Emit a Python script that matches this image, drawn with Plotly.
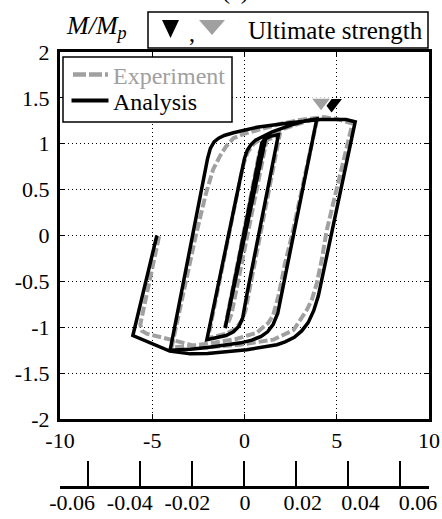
import plotly.graph_objects as go

# ---------------------------------------------------------------
# Cyclic moment - displacement response (normalised moment M/Mp)
# ---------------------------------------------------------------

# Analysis (solid black) hysteresis path
ana_x = [0.0, 1.05, 1.15,
         -1.05,
         0.94, 1.1, 1.4, 1.84,
         0.15, 0.03, -0.1, -0.3, -0.6, -1.0, -1.5, -2.04,
         -0.15, 0.0, 0.15, 0.35, 0.6, 0.9, 1.5, 2.48, 3.3, 3.92,
         2.2, 2.0, 1.8, 1.55, 1.25, 0.9, 0.4, -0.2, -1.14, -2.0, -2.94, -4.03,
         -2.0, -1.85, -1.65, -1.4, -1.1, -0.6, 0.67, 2.48, 4.1, 5.0, 5.5, 6.0,
         4.45, 4.25, 4.0, 3.75, 3.45, 3.1, 2.7, 2.2, 1.76, 0.13, -1.14, -2.0, -2.94, -3.6, -4.05,
         -6.05, -4.75]
ana_y = [0.0, 1.02, 1.06,
         -1.01,
         1.01, 1.05, 1.08, 1.10,
         -0.62, -0.78, -0.9, -0.99, -1.05, -1.09, -1.115, -1.135,
         0.70, 0.84, 0.93, 0.99, 1.04, 1.07, 1.13, 1.20, 1.25, 1.27,
         -0.45, -0.68, -0.85, -0.97, -1.05, -1.10, -1.14, -1.17, -1.2, -1.22, -1.24, -1.25,
         0.84, 0.95, 1.02, 1.06, 1.09, 1.12, 1.18, 1.23, 1.265, 1.27, 1.265, 1.24,
         -0.25, -0.45, -0.66, -0.82, -0.95, -1.04, -1.11, -1.16, -1.19, -1.245, -1.27, -1.285, -1.29, -1.275, -1.26,
         -1.09, 0.0]

# Experiment (grey dashed) hysteresis path
exp_x = [0.0, 0.9, 1.1, 1.2,
         -0.7, -0.9, -1.05,
         0.8, 1.0, 1.3, 1.9,
         0.4, 0.2, 0.05, -0.15, -0.5, -1.0, -1.5, -1.98,
         -0.25, -0.05, 0.15, 0.5, 1.0, 1.8, 2.8, 3.6, 3.95,
         2.57, 2.2, 1.84, 1.55, 1.3, 0.67, -0.5, -2.0, -3.3, -3.95,
         -2.64, -2.1, -1.7, -1.32, -1.0, -0.6, 0.0, 1.0, 2.0, 3.0, 3.8, 4.3, 5.0, 5.5, 5.85,
         4.45, 4.2, 3.92, 3.65, 3.38, 2.66, 1.57, -0.23, -2.04, -2.76, -3.3, -4.03, -4.57, -5.3, -5.55, -5.65,
         -4.62]
exp_y = [0.0, 0.93, 1.02, 1.04,
         -0.85, -0.96, -1.0,
         0.9, 0.99, 1.05, 1.09,
         -0.45, -0.65, -0.82, -0.93, -1.02, -1.07, -1.1, -1.12,
         0.6, 0.78, 0.9, 1.0, 1.07, 1.14, 1.21, 1.26, 1.28,
         0.0, -0.3, -0.66, -0.87, -0.95, -1.06, -1.13, -1.18, -1.21, -1.22,
         0.0, 0.45, 0.72, 0.87, 0.97, 1.06, 1.11, 1.17, 1.22, 1.26, 1.285, 1.29, 1.27, 1.245, 1.22,
         0.05, -0.25, -0.52, -0.7, -0.81, -1.03, -1.135, -1.19, -1.22, -1.2, -1.17, -1.135, -1.10, -1.07, -1.04, -0.97,
         0.0]

# Ultimate-strength markers
ult_ana_x = [4.72]
ult_ana_y = [1.44]
ult_exp_x = [4.15]
ult_exp_y = [1.45]

# Axis ticks
x_ticks = [-10, -5, 0, 5, 10]
x_tick_text = ["-10", "-5", "0", "5", "10"]
y_ticks = [-2, -1.5, -1, -0.5, 0, 0.5, 1, 1.5, 2]
y_tick_text = ["-2", "-1.5", "-1", "-0.5", "0", "0.5", "1", "1.5", "2"]
rot_ticks = [-0.06, -0.04, -0.02, 0, 0.02, 0.04, 0.06]
rot_tick_text = ["-0.06", "-0.04", "-0.02", "0", "0.02", "0.04", "0.06"]

FONT = "Liberation Serif"
GREY = "#a0a0a0"
W, H = 442, 519
L, R, T, B = 60, 13, 52, 32
PW, PH = W - L - R, H - T - B


def fx(p):
    """pixel column -> paper x"""
    return (p - L) / PW


def fy(p):
    """pixel row -> paper y"""
    return (H - B - p) / PH


fig = go.Figure()

fig.add_trace(go.Scatter(x=exp_x, y=exp_y, mode="lines", name="Experiment",
                         line=dict(color=GREY, width=4, dash="9px,3px"),
                         hoverinfo="skip"))
fig.add_trace(go.Scatter(x=ana_x, y=ana_y, mode="lines", name="Analysis",
                         line=dict(color="black", width=3.5),
                         hoverinfo="skip"))
fig.add_trace(go.Scatter(x=ult_ana_x, y=ult_ana_y, mode="markers",
                         marker=dict(symbol="triangle-down", size=18, color="black"),
                         hoverinfo="skip"))
fig.add_trace(go.Scatter(x=ult_exp_x, y=ult_exp_y, mode="markers",
                         marker=dict(symbol="triangle-down", size=18, color=GREY,
                                     line=dict(color="white", width=1.5)),
                         hoverinfo="skip"))
# rotation scale: one axis carries the line and ticks, one the labels
fig.add_trace(go.Scatter(x=[], y=[], xaxis="x2", hoverinfo="skip"))
fig.add_trace(go.Scatter(x=[], y=[], xaxis="x3", hoverinfo="skip"))

axis_common = dict(
    showgrid=True, gridcolor="black", gridwidth=1, griddash="1px,3px",
    showline=True, linecolor="black", linewidth=3, mirror="ticks",
    ticks="inside", ticklen=5, tickcolor="black", tickwidth=1,
    zeroline=False, automargin=False,
    tickfont=dict(family=FONT, size=22, color="black"),
)

fig.update_layout(
    template="none",
    width=W, height=H,
    margin=dict(l=L, r=R, t=T, b=B, pad=0, autoexpand=False),
    paper_bgcolor="white", plot_bgcolor="white",
    showlegend=False,
    xaxis=dict(domain=[0, 1], range=[-10, 10], tickvals=x_ticks,
               ticktext=x_tick_text, anchor="y", ticklabelstandoff=0, **axis_common),
    yaxis=dict(domain=[fy(419), 1], range=[-2, 2], tickvals=y_ticks,
               ticktext=y_tick_text, anchor="x", ticklabelstandoff=3, **axis_common),
    xaxis2=dict(overlaying="x", range=[-0.07065, 0.07095], anchor="free",
                position=0, tickvals=rot_ticks, showticklabels=False,
                ticks="inside", ticklen=25, tickwidth=1.5, tickcolor="black",
                showline=True, linecolor="black", linewidth=3,
                showgrid=False, zeroline=False, automargin=False),
    xaxis3=dict(overlaying="x", range=[-0.0642, 0.0638], anchor="free",
                position=0, tickvals=rot_ticks, ticktext=rot_tick_text,
                ticks="", showline=False, showgrid=False, zeroline=False,
                ticklabelstandoff=0, automargin=False,
                tickfont=dict(family=FONT, size=22, color="black")),
)

shapes = [
    # "Ultimate strength" key box
    dict(type="rect", xref="paper", yref="paper",
         x0=fx(148), x1=fx(428), y0=fy(48), y1=fy(12),
         line=dict(color="black", width=1.5)),
    dict(type="path", xref="paper", yref="paper",
         path=f"M{fx(162)},{fy(20)} L{fx(179)},{fy(20)} L{fx(170.5)},{fy(38)} Z",
         fillcolor="black", line=dict(width=0)),
    dict(type="path", xref="paper", yref="paper",
         path=f"M{fx(199)},{fy(20)} L{fx(225)},{fy(20)} L{fx(212)},{fy(35)} Z",
         fillcolor=GREY, line=dict(width=0)),
    # series key
    dict(type="rect", xref="paper", yref="paper", layer="above",
         x0=fx(63), x1=fx(232), y0=fy(122), y1=fy(57),
         fillcolor="white", line=dict(color="black", width=1.5)),
    dict(type="line", xref="paper", yref="paper", layer="above",
         x0=fx(73), x1=fx(108), y0=fy(74.5), y1=fy(74.5),
         line=dict(color=GREY, width=4.5, dash="13px,3px")),
    dict(type="line", xref="paper", yref="paper", layer="above",
         x0=fx(71.5), x1=fx(108.5), y0=fy(100.5), y1=fy(100.5),
         line=dict(color="black", width=4)),
]


def label(text, x, y, size=24, color="black", xanchor="left"):
    return dict(text=text, x=fx(x), y=fy(y), xref="paper", yref="paper",
                xanchor=xanchor, yanchor="middle", showarrow=False,
                font=dict(family=FONT, size=size, color=color))


annotations = [
    label("(c)", 235, -9, xanchor="center"),
    label("<i>M/M</i><sub><i>p</i></sub>", 64, 27, size=26),
    label(",", 192, 33, xanchor="center"),
    label("Ultimate strength", 246, 31, size=25),
    label("Experiment", 111, 76, color=GREY),
    label("Analysis", 111, 102),
]

fig.update_layout(shapes=shapes, annotations=annotations)

fig.write_html("out.html")
